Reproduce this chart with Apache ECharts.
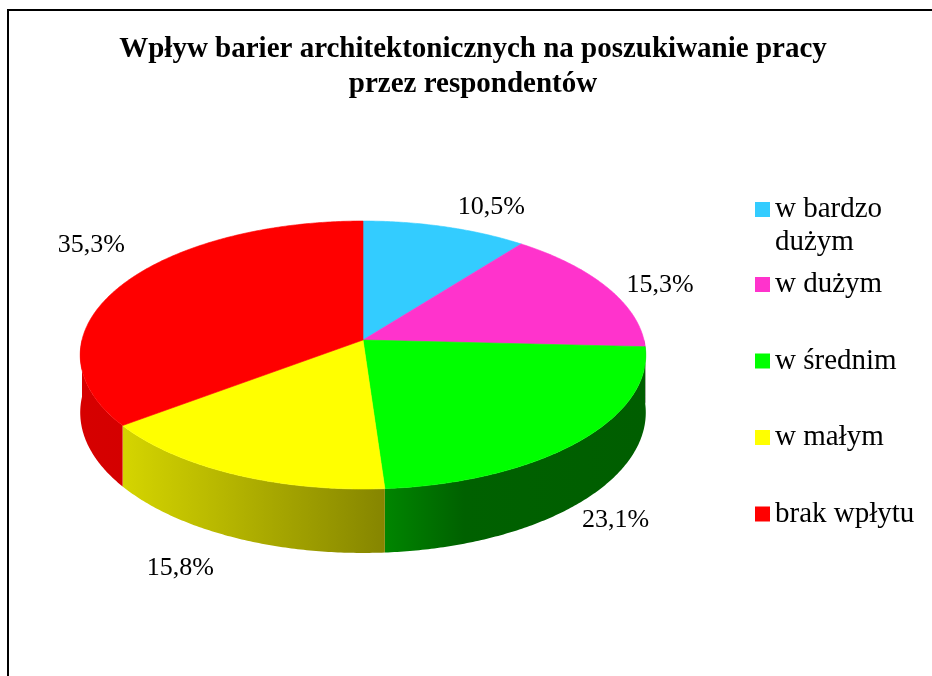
<!DOCTYPE html>
<html>
<head>
<meta charset="utf-8">
<script src="https://cdn.jsdelivr.net/npm/echarts@6/dist/echarts.min.js"></script>
<style>
html, body { margin: 0; padding: 0; background: #fff; }
#chart { width: 932px; height: 676px; }
</style>
</head>
<body>
<div id="chart"></div>
<script>
var categories = ['w bardzo dużym', 'w dużym', 'w średnim', 'w małym', 'brak wpłytu'];
var shares = [10.5, 15.3, 23.1, 15.8, 35.3];
var colors = ['#33CCFF', '#FF33CC', '#00FF00', '#FFFF00', '#FF0000'];
// nudge of each percentage label away from the rim point of its slice
var labelShift = [[46, -20], [53, -2], [35, 18], [-53, 31], [-32, -39]];

var FONT = 'Liberation Serif, Times New Roman, serif';

// tilted pie seen in perspective: centre, half axes, perspective factor, wall height
var CX = 363, CY = 340, RX = 281, RY = 132.3, K = 0.112, DEPTH = 56.8;

var total = shares.reduce(function (a, b) { return a + b; }, 0);
var starts = [];
shares.reduce(function (acc, v, i) { starts[i] = acc; return acc + v; }, 0);

function toAngle(v) {
    return v / total * Math.PI * 2;
}

function rim(t, drop) {
    var d = 1 + K * Math.cos(t);
    return [CX + RX * Math.sin(t) / d, CY - RY * Math.cos(t) / d + (drop ? DEPTH / d : 0)];
}

function arc(t0, t1, drop) {
    var pts = [];
    var n = Math.max(2, Math.ceil((t1 - t0) / 0.01));
    for (var i = 0; i <= n; i++) {
        pts.push(rim(t0 + (t1 - t0) * i / n, drop));
    }
    return pts;
}

// side walls get darker from left to right, like the excel lighting
function shade(hex) {
    var r = parseInt(hex.substr(1, 2), 16);
    var g = parseInt(hex.substr(3, 2), 16);
    var b = parseInt(hex.substr(5, 2), 16);
    var stops = [[0, 0.84], [0.078, 0.83], [0.54, 0.52], [0.68, 0.38], [1, 0.37]];
    return new echarts.graphic.LinearGradient(CX - RX, 0, CX + RX, 0, stops.map(function (s) {
        return {
            offset: s[0],
            color: 'rgb(' + Math.round(r * s[1]) + ',' + Math.round(g * s[1]) + ',' + Math.round(b * s[1]) + ')'
        };
    }), true);
}

function renderSlice(params, api) {
    var i = params.dataIndex;
    var v = api.value(0);
    var t0 = toAngle(starts[i]);
    var t1 = toAngle(starts[i] + v);
    var children = [];

    children.push({
        type: 'polygon',
        z2: 10,
        shape: { points: [[CX, CY]].concat(arc(t0, t1, false)) },
        style: { fill: colors[i], stroke: colors[i], lineWidth: 0.6 }
    });

    var s0 = Math.max(t0, Math.PI / 2);
    var s1 = Math.min(t1, Math.PI * 1.5);
    if (s1 > s0) {
        children.push({
            type: 'polygon',
            z2: 1,
            shape: { points: arc(s0, s1, false).concat(arc(s0, s1, true).reverse()) },
            style: { fill: shade(colors[i]) }
        });
    }

    var tm = (t0 + t1) / 2;
    var p = rim(tm, Math.cos(tm) < 0);
    children.push({
        type: 'text',
        z2: 20,
        x: p[0] + labelShift[i][0],
        y: p[1] + labelShift[i][1],
        style: {
            text: v.toFixed(1).replace('.', ',') + '%',
            fill: '#000',
            fontFamily: FONT,
            fontSize: 26,
            align: 'center',
            verticalAlign: 'middle'
        }
    });

    return { type: 'group', children: children };
}

var chart = echarts.init(document.getElementById('chart'));

var legendText = {
    fontFamily: FONT,
    fontSize: 29,
    lineHeight: 33,
    color: '#000'
};

var option = {
    backgroundColor: '#fff',
    animation: false,
    title: {
        text: 'Wpływ barier architektonicznych na poszukiwanie pracy\nprzez respondentów',
        left: 473,
        top: 32,
        padding: 0,
        textAlign: 'center',
        textStyle: {
            fontFamily: FONT,
            fontWeight: 'bold',
            fontSize: 29,
            lineHeight: 35,
            color: '#000'
        }
    },
    graphic: [{
        type: 'rect',
        silent: true,
        shape: { x: 8, y: 10, width: 940, height: 700 },
        style: { fill: 'none', stroke: '#000', lineWidth: 2 }
    }],
    legend: [{
        // empty first line keeps the marker level with "w bardzo"
        data: [categories[0]],
        orient: 'vertical',
        left: 755,
        top: 160,
        padding: 0,
        icon: 'rect',
        itemWidth: 15,
        itemHeight: 15,
        selectedMode: false,
        formatter: function (name) {
            return '\n' + name.replace(/ (\S+)$/, '\n$1');
        },
        textStyle: legendText
    }, {
        data: categories.slice(1),
        orient: 'vertical',
        left: 755,
        top: 268,
        padding: 0,
        itemGap: 43.5,
        icon: 'rect',
        itemWidth: 15,
        itemHeight: 15,
        selectedMode: false,
        textStyle: legendText
    }],
    series: [{
        // only feeds the legend
        type: 'pie',
        radius: 0,
        center: [-50, -50],
        silent: true,
        label: { show: false },
        labelLine: { show: false },
        data: categories.map(function (name, i) {
            return { name: name, value: shares[i], itemStyle: { color: colors[i] } };
        })
    }, {
        type: 'custom',
        coordinateSystem: 'none',
        silent: true,
        renderItem: renderSlice,
        data: shares
    }]
};

chart.setOption(option);
</script>
</body>
</html>
